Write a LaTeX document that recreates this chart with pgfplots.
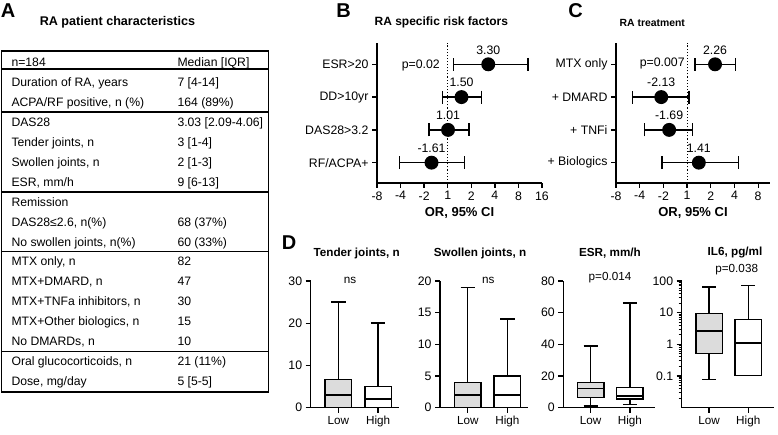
\documentclass[border=0pt]{standalone}
\usepackage{fontspec}
\setmainfont{Liberation Sans}
\usepackage{pgfplots}
\pgfplotsset{compat=1.18}
\usepgfplotslibrary{statistics}
\definecolor{boxgray}{HTML}{DCDCDC}
\newcommand\fT{\fontsize{12.2}{14}\selectfont}
\newcommand\fL{\fontsize{12.3}{14}\selectfont}
\newcommand\fD{\fontsize{11.7}{14}\selectfont}
\newcommand\fP{\fontsize{20}{22}\selectfont\bfseries}
\pgfplotsset{
  prism/.style={scale only axis, axis lines*=left, tick align=outside,
    major tick length=5pt, minor tick length=3pt,
    axis line style={line width=1.3pt},
    major tick style={line width=1.3pt, black},
    minor tick style={line width=0.9pt, black},
    tick label style={font=\fL},
    /pgf/number format/assume math mode=true,
    clip=false, enlargelimits=false},
  forest/.style={prism, height=140pt, ymin=0.38, ymax=4.65, ytick={1,2,3,4},
    xlabel style={font=\fontsize{13}{15}\selectfont\bfseries}},
  fmark/.style={black, line width=1.3pt, only marks, mark=*, mark size=6.3pt,
    nodes near coords, point meta=explicit symbolic,
    nodes near coords style={font=\fL, anchor=south, yshift=6pt, text=black},
    error bars/.cd, x dir=both, x explicit,
    error bar style={line width=1.3pt, black},
    error mark=|,
    error mark options={line width=1.3pt, mark size=6.5pt, black}},
  bx/.style={prism, width=88pt, height=126.5pt, xmin=0.3, xmax=2.55,
    xtick={1,2}, xticklabels={Low,High}, xticklabel style={font=\fD},
    boxplot/draw direction=y,
    boxplot/every box/.style={draw=black, line width=1.4pt},
    boxplot/every whisker/.style={draw=black, line width=1.4pt},
    boxplot/every median/.style={draw=black, line width=1.4pt}},
  bp/.style={draw=black, line width=1.4pt, solid,
    boxplot prepared={#1, box extend=0.67, whisker extend=0.36}},
}
\pgfplotstableread{
x y em ep lab
1.72 4 1.47 1.68 3.30
0.585 3 0.815 0.835 1.50
0.014 2 0.804 0.886 1.01
-0.687 1 1.363 1.387 -1.61
}\riskB
\pgfplotstableread{
x y em ep lab
1.18 4 0.85 0.87 2.26
-1.09 3 1.20 1.17 -2.13
-0.757 2 1.03 0.98 -1.69
0.496 1 1.55 1.66 1.41
}\treatC
\newcommand\row[3]{\node[anchor=base west,font=\fT] at (8,#1+4.4) {#2};
  \node[anchor=base west,font=\fT] at (174,#1+4.4) {#3};}
\begin{document}
\begin{tikzpicture}
\path[use as bounding box] (0,0) rectangle (778pt,-435pt);
\begin{scope}[x=1pt,y=-1pt]
% Panel A
\node[font=\fP] at (8,11) {A};
\node[font=\fontsize{12.6}{15}\selectfont\bfseries] at (117.5,22.7) {RA patient characteristics};
\draw[line width=1.5pt] (1.3,51) rectangle (268.7,392);
\foreach \yy in {69,112,192,251.5,351.5} \draw[line width=1.4pt] (1.3,\yy) -- (268.7,\yy);
\row{62}{n=184}{Median [IQR]}
\row{82}{Duration of RA, years}{7 [4-14]}
\row{102}{ACPA/RF positive, n (\%)}{164 (89\%)}
\row{122}{DAS28}{3.03 [2.09-4.06]}
\row{142}{Tender joints, n}{3 [1-4]}
\row{162}{Swollen joints, n}{2 [1-3]}
\row{182}{ESR, mm/h}{9 [6-13]}
\row{202}{Remission}{}
\row{222}{DAS28≤2.6, n(\%)}{68 (37\%)}
\row{242}{No swollen joints, n(\%)}{60 (33\%)}
\row{261.5}{MTX only, n}{82}
\row{281}{MTX+DMARD, n}{47}
\row{301}{MTX+TNFa inhibitors, n}{30}
\row{321}{MTX+Other biologics, n}{15}
\row{341}{No DMARDs, n}{10}
\row{361.5}{Oral glucocorticoids, n}{21 (11\%)}
\row{381}{Dose, mg/day}{5 [5-5]}
% Panel B/C titles
\node[font=\fP] at (343.5,11) {B};
\node[font=\fontsize{12}{14}\selectfont\bfseries] at (441.3,22.7) {RA specific risk factors};
\node[font=\fL] at (420.8,65) {p=0.02};
\node[font=\fP] at (575.5,11) {C};
\node[font=\fontsize{10.4}{12}\selectfont\bfseries] at (652.3,22.7) {RA treatment};
\node[font=\fL] at (662.2,63.3) {p=0.007};
% Panel D
\node[font=\fP] at (289,242.5) {D};
\node[font=\fD\bfseries] at (356.7,253) {Tender joints, n};
\node[font=\fD\bfseries] at (480,253) {Swollen joints, n};
\node[font=\fD\bfseries] at (610,253) {ESR, mm/h};
\node[font=\fD\bfseries] at (735,253) {IL6, pg/ml};
\node[font=\fD] at (350,280) {ns};
\node[font=\fD] at (488.3,280) {ns};
\node[font=\fD] at (610,278) {p=0.014};
\node[font=\fD] at (736.7,270) {p=0.038};
\end{scope}

% B
\begin{axis}[forest, at={(377pt,-183pt)}, anchor=south west, width=165pt,
  xmin=-3, xmax=4, xtick={-3,-2,-1,0,1,2,3,4},
  xticklabels={-8,-4,-2,1,2,4,8,16},
  yticklabels={RF/ACPA+,DAS28>3.2,DD>10yr,ESR>20},
  xlabel={OR, 95\% CI}]
\addplot[black, dotted, line width=1.1pt] coordinates {(0,0.38) (0,4.65)};
\addplot[fmark] table[x=x, y=y, x error minus=em, x error plus=ep, meta=lab] {\riskB};
\end{axis}

% C
\begin{axis}[forest, at={(616pt,-183pt)}, anchor=south west, width=154pt,
  xmin=-3, xmax=3.5, xtick={-3,-2,-1,0,1,2,3},
  xticklabels={-8,-4,-2,1,2,4,8},
  yticklabels={+ Biologics,+ TNFi,+ DMARD,MTX only},
  xlabel={OR, 95\% CI}]
\addplot[black, dotted, line width=1.1pt] coordinates {(0,0.38) (0,4.65)};
\addplot[fmark] table[x=x, y=y, x error minus=em, x error plus=ep, meta=lab] {\treatC};
\end{axis}

% D1 Tender
\begin{axis}[bx, at={(310.7pt,-407.5pt)}, anchor=south west, xmax=2.52,
  ymin=0, ymax=30, ytick={0,10,20,30}]
\addplot[bp={lower whisker=0, lower quartile=0, median=3, upper quartile=6.6, upper whisker=25, draw position=1}, fill=boxgray] coordinates {};
\addplot[bp={lower whisker=0, lower quartile=0, median=2, upper quartile=5, upper whisker=20, draw position=2}, fill=white] coordinates {};
\end{axis}

% D2 Swollen
\begin{axis}[bx, at={(440pt,-407.5pt)}, anchor=south west, xmax=2.52,
  ymin=0, ymax=20, ytick={0,5,10,15,20}]
\addplot[bp={lower whisker=0, lower quartile=0, median=2, upper quartile=4, upper whisker=19, draw position=1}, fill=boxgray] coordinates {};
\addplot[bp={lower whisker=0, lower quartile=0, median=2, upper quartile=5, upper whisker=14, draw position=2}, fill=white] coordinates {};
\end{axis}

% D3 ESR
\begin{axis}[bx, at={(563.3pt,-407.5pt)}, anchor=south west, xmax=2.65, width=92pt,
  ymin=0, ymax=80, ytick={0,20,40,60,80}]
\addplot[bp={lower whisker=1, lower quartile=6.4, median=12, upper quartile=16, upper whisker=39, draw position=1}, fill=boxgray] coordinates {};
\addplot[bp={lower whisker=2, lower quartile=5.3, median=7.4, upper quartile=12.7, upper whisker=66, draw position=2}, fill=white] coordinates {};
\end{axis}

% D4 IL6
\begin{axis}[bx, at={(681.7pt,-407.5pt)}, anchor=south west, xmax=2.65, width=92pt,
  ymode=log, ymin=0.01, ymax=100, ytick={0.1,1,10,100},
  yticklabels={0.1,1,10,100},
  minor ytick={0.02,0.03,0.04,0.05,0.06,0.07,0.08,0.09,0.2,0.3,0.4,0.5,0.6,0.7,0.8,0.9,2,3,4,5,6,7,8,9,20,30,40,50,60,70,80,90}]
\addplot[bp={lower whisker=0.077, lower quartile=0.5, median=2.6, upper quartile=9.5, upper whisker=64, draw position=1}, fill=boxgray] coordinates {};
\addplot[bp={lower whisker=0.105, lower quartile=0.105, median=1.1, upper quartile=6.0, upper whisker=72, draw position=2}, fill=white] coordinates {};
\end{axis}
\end{tikzpicture}
\end{document}
